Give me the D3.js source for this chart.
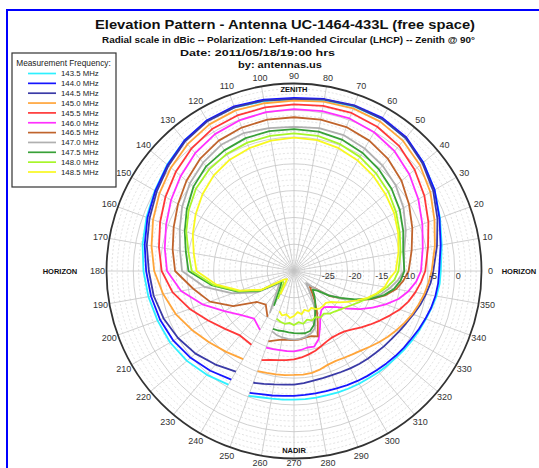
<!DOCTYPE html>
<html><head><meta charset="utf-8">
<script src="https://cdn.jsdelivr.net/npm/d3@7"></script>
<style>
html,body{margin:0;padding:0;background:#fff;}
svg text{font-family:Arial,"Liberation Sans",sans-serif;}
</style></head>
<body>
<svg id="chart" width="539" height="468"></svg>
<script>
// ---------------- data ----------------
const angles = [0,10,20,30,40,50,60,70,80,90,100,110,120,130,140,150,160,170,180,190,200,210,220,230,240,
  250,255,260,265,270,275,280,285,290,295,300,305,310,315,320,325,330,335,340,345,350,355];

const frequencies = ["143.5 MHz","144.0 MHz","144.5 MHz","145.0 MHz","145.5 MHz","146.0 MHz","146.5 MHz","147.0 MHz","147.5 MHz","148.0 MHz","148.5 MHz"];

const f1435 = [-2.6,-2.0,-1.0,0.3,1.5,2.4,2.8,2.7,2.3,2.0,2.2,2.5,2.4,1.8,0.9,0.0,-0.7,-1.3,-1.9,
  -2.4,-2.9,-3.3,-3.9,-4.7,-5.5,
  -5.2,-5.6,-5.8,-5.9,-6.0,-6.0,-6.0,-6.0,-5.9,-5.8,-5.7,-5.6,-5.4,-5.2,-5.0,-4.7,-4.4,-4.1,-3.8,-3.4,-3.0,-2.7];
const f1440 = [-2.9,-2.2,-1.1,0.3,1.5,2.6,3.0,2.9,2.6,2.3,2.5,2.7,2.5,1.8,0.8,-0.1,-0.9,-1.7,-2.4,
  -2.9,-3.4,-4.0,-4.8,-5.7,-6.6,
  -5.8,-6.2,-6.4,-6.6,-6.7,-6.8,-6.8,-6.8,-6.7,-6.5,-6.3,-6.1,-5.9,-5.6,-5.3,-5.0,-4.7,-4.3,-3.9,-3.5,-3.2,-3.0];
const f1445 = [-4.0,-2.9,-1.5,0.0,1.3,2.4,2.8,2.8,2.5,2.1,2.3,2.5,2.3,1.6,0.6,-0.4,-1.3,-2.1,-2.9,
  -3.4,-4.1,-5.0,-6.0,-7.2,-8.3,
  -7.8,-8.2,-8.5,-8.7,-8.8,-9.0,-9.2,-9.3,-9.3,-9.2,-9.0,-8.8,-8.6,-8.4,-8.1,-7.8,-7.4,-6.9,-6.3,-5.6,-5.0,-4.4];
const f1450 = [-4.3,-3.3,-2.1,-0.6,0.7,1.7,2.2,2.3,2.1,1.8,1.8,1.9,1.6,0.9,0.0,-1.0,-2.0,-3.0,-3.9,
  -5.2,-6.5,-8.0,-9.3,-10.3,-11.0,
  -10.1,-10.3,-10.4,-10.5,-10.6,-10.6,-10.7,-11.0,-11.4,-11.5,-11.3,-11.0,-10.6,-10.0,-9.3,-8.6,-7.9,-7.2,-6.5,-5.9,-5.3,-4.8];
const f1455 = [-5.5,-4.6,-3.3,-1.9,-0.6,0.5,1.1,1.4,1.3,1.1,1.0,0.9,0.6,-0.2,-1.2,-2.3,-3.4,-4.4,-5.3,
  -7.0,-9.3,-11.5,-13.2,-14.3,-14.1,
  -12.3,-12.8,-13.1,-13.3,-13.5,-13.8,-14.2,-14.6,-15.1,-15.5,-15.7,-15.6,-15.3,-14.6,-13.6,-12.6,-11.5,-10.3,-9.0,-7.9,-7.0,-6.2];
const f1460 = [-6.3,-5.6,-4.5,-3.2,-1.9,-0.8,-0.1,0.3,0.3,0.2,0.1,-0.1,-0.5,-1.3,-2.4,-3.5,-4.6,-5.5,-6.3,
  -8.6,-11.8,-15.0,-17.2,-18.4,-17.3,
  -14.8,-14.9,-15.0,-15.0,-15.0,-15.2,-15.5,-15.4,-16.5,-18.5,-20.2,-21.1,-21.2,-20.5,-19.5,-17.8,-15.8,-13.8,-11.8,-9.8,-8.3,-7.1];
const f1465 = [-8.6,-7.7,-6.5,-5.2,-3.8,-2.7,-1.9,-1.4,-1.3,-1.3,-1.3,-1.5,-1.9,-2.7,-3.8,-5.0,-6.1,-7.0,-7.8,
  -10.9,-13.3,-16.9,-21.0,-21.8,-20.1,
  -16.0,-16.6,-17.0,-17.1,-17.1,-17.2,-17.4,-17.4,-17.0,-19.5,-21.5,-23.3,-24.8,-25.8,-25.2,-21.8,-19.8,-17.0,-14.6,-12.4,-10.6,-9.5];
const f1470 = [-9.5,-9.1,-7.8,-6.4,-5.2,-4.3,-3.6,-3.0,-2.9,-3.1,-2.9,-2.6,-2.8,-3.6,-4.6,-5.9,-7.3,-8.4,-9.1,
  -13.0,-17.8,-22.0,-26.5,-25.0,-21.0,
  -18.0,-17.6,-17.4,-17.3,-17.2,-17.3,-17.5,-17.9,-18.6,-20.5,-22.5,-24.5,-26.0,-26.8,-25.0,-22.2,-19.6,-17.2,-15.0,-13.2,-11.8,-10.5];
const f1475 = [-9.4,-9.3,-8.3,-7.2,-6.2,-5.3,-4.5,-3.9,-3.6,-3.5,-3.5,-3.6,-4.0,-4.5,-5.5,-6.9,-8.3,-9.5,-10.3,
  -14.5,-18.8,-22.6,-27.0,-26.0,-22.5,
  -18.5,-18.5,-18.6,-18.5,-18.4,-18.3,-18.2,-18.4,-19.2,-20.7,-22.0,-23.1,-24.1,-25.1,-24.3,-22.0,-20.0,-17.5,-14.8,-12.6,-11.0,-10.0];
const f1480 = [-10.5,-9.8,-9.0,-8.0,-7.0,-6.2,-5.4,-4.8,-4.4,-4.3,-4.4,-4.5,-4.8,-5.3,-6.1,-7.3,-8.6,-10.0,-10.9,
  -14.8,-19.0,-22.8,-27.2,-27.0,-24.0,
  -20.5,-20.2,-20.0,-20.3,-19.9,-20.4,-20.0,-20.6,-20.2,-20.5,-20.0,-20.3,-19.6,-19.3,-18.8,-18.2,-17.4,-16.4,-15.2,-13.8,-12.4,-11.2];
const f1485 = [-11.0,-10.2,-9.3,-8.4,-7.7,-6.9,-6.2,-5.6,-5.2,-5.1,-5.3,-5.6,-6.0,-6.7,-7.7,-8.8,-9.9,-11.0,-11.8,
  -15.3,-19.3,-23.0,-27.5,-28.0,-25.0,
  -22.0,-21.4,-21.8,-21.2,-21.6,-22.3,-21.8,-22.5,-22.0,-22.4,-21.8,-21.5,-21.5,-21.6,-21.0,-19.8,-18.5,-17.0,-15.4,-14.0,-12.8,-12.2];

const seriesValues = [f1435,f1440,f1445,f1450,f1455,f1460,f1465,f1470,f1475,f1480,f1485];
const seriesColors = ["#2ef0ff","#1515ff","#3a3aa6","#ffa53a","#ff3838","#ff30ff","#c0642c","#b0b0b0","#38a038","#a8f52a","#f8f820"];

const radialTicks = [-25,-20,-15,-10,-5,0];
const angleTicks = d3.range(0,360,10);

// ---------------- layout ----------------
const svg = d3.select("#chart");
const cx = 294, cy = 271, R = 187.5;
const rScale = d3.scaleLinear().domain([-30,5]).range([0,R]).clamp(true);
const toRad = a => (90 - a) * Math.PI/180; // math angle -> d3 radial angle

// blue frame
svg.append("path").attr("d","M7,470 L7,10 L541,10").attr("fill","none").attr("stroke","#0000ff").attr("stroke-width",2);

// titles (widths matched to the reference)
function title(x,y,size,weight,len,txt){
  svg.append("text").attr("x",x).attr("y",y).attr("text-anchor","middle").attr("font-size",size)
    .attr("font-weight",weight).attr("fill","#111")
    .attr("textLength",len).attr("lengthAdjust","spacingAndGlyphs").text(txt);
}
title(285,29,13.5,"bold",380,"Elevation Pattern - Antenna UC-1464-433L (free space)");
title(288.5,42.5,8.5,"bold",373,"Radial scale in dBic -- Polarization: Left-Handed Circular (LHCP) -- Zenith @ 90°");
title(257.5,55.5,9.5,"bold",155,"Date: 2011/05/18/19:00 hrs");
title(280,68,9.5,"bold",84,"by: antennas.us");

const g = svg.append("g").attr("transform",`translate(${cx},${cy})`);

// minor dashed rings (every 1 dB)
const minor = d3.range(-29,5,1).filter(v => v % 5 !== 0);
g.selectAll(".minor").data(minor).join("circle")
  .attr("r", d => rScale(d)).attr("fill","none").attr("stroke","#cfcfcf").attr("stroke-width",0.6).attr("stroke-dasharray","2,2");
// major rings
g.selectAll(".major").data([-25,-20,-15,-10,-5,0]).join("circle")
  .attr("r", d => rScale(d)).attr("fill","none").attr("stroke","#c4c4c4").attr("stroke-width",0.8);
// spokes
g.selectAll(".spoke").data(angleTicks).join("line")
  .attr("x1",0).attr("y1",0)
  .attr("x2", d => R*Math.cos(d*Math.PI/180)).attr("y2", d => -R*Math.sin(d*Math.PI/180))
  .attr("stroke","#c4c4c4").attr("stroke-width",0.8);

// series lines
const line = d3.lineRadial().angle(d => toRad(d.a)).radius(d => rScale(d.v));
seriesValues.forEach((vals,i) => {
  const pts = angles.map((a,k) => ({a: a >= 245 ? a : a + 360, v: vals[k]})).sort((p,q) => p.a - q.a);
  g.append("path").attr("d", line(pts)).attr("fill","none").attr("stroke",seriesColors[i]).attr("stroke-width",1.8).attr("stroke-linejoin","round");
});

// outer circle
g.append("circle").attr("r",R).attr("fill","none").attr("stroke","#333").attr("stroke-width",1.8);

// angle labels
const LR = 196.5;
g.selectAll(".alab").data(angleTicks).join("text")
  .attr("x", d => LR*Math.cos(d*Math.PI/180)).attr("y", d => Math.min(191.5, Math.max(-195.5, -LR*Math.sin(d*Math.PI/180))))
  .attr("text-anchor","middle").attr("dominant-baseline","central").attr("font-size",9).attr("fill","#333")
  .text(d => d);

// radial tick labels
g.selectAll(".rlab").data(radialTicks).join("text")
  .attr("x", d => rScale(d)+1).attr("y", 7.5).attr("font-size",9).attr("fill","#333")
  .text(d => d);

// direction labels
const dirStyle = s => s.attr("font-size",7.5).attr("font-weight","bold").attr("fill","#111").attr("text-anchor","middle").attr("dominant-baseline","central");
g.append("text").attr("x",0).attr("y",-R+6).call(dirStyle).text("ZENITH");
g.append("text").attr("x",0).attr("y",R-8).call(dirStyle).text("NADIR");
svg.append("text").attr("x",60).attr("y",271).call(dirStyle).text("HORIZON");
svg.append("text").attr("x",519).attr("y",271).call(dirStyle).text("HORIZON");

// legend
const lg = svg.append("g");
lg.append("rect").attr("x",12).attr("y",53).attr("width",104).attr("height",134).attr("fill","#fff").attr("stroke","#333").attr("stroke-width",1.2);
lg.append("text").attr("x",63.5).attr("y",66).attr("text-anchor","middle").attr("font-size",8.3).attr("fill","#222").text("Measurement Frequency:");
frequencies.forEach((f,i) => {
  const y = 73.5 + i*9.85;
  lg.append("line").attr("x1",28).attr("x2",56).attr("y1",y).attr("y2",y).attr("stroke",seriesColors[i]).attr("stroke-width",1.7);
  lg.append("text").attr("x",61).attr("y",y+2.8).attr("font-size",7.8).attr("fill","#222").text(f);
});
</script>
</body></html>
